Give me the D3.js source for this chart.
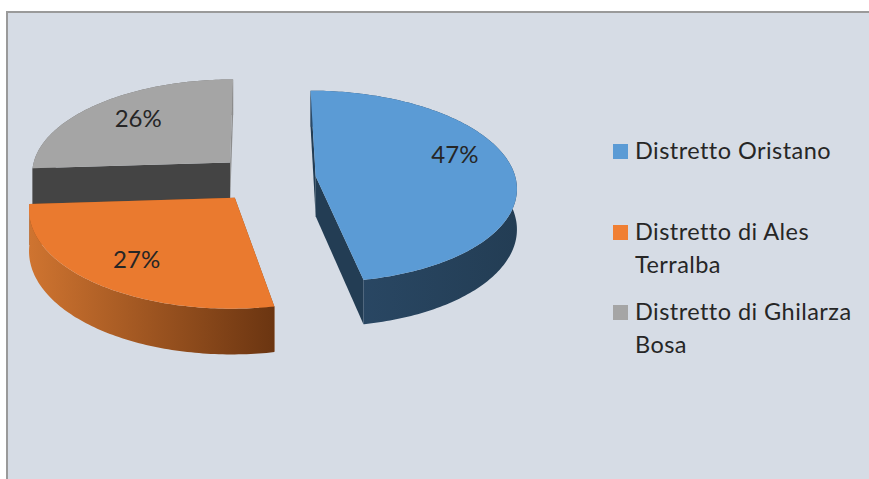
<!DOCTYPE html>
<html>
<head>
<meta charset="utf-8">
<script src="https://cdn.jsdelivr.net/npm/d3@7"></script>
<style>
  html, body { margin: 0; padding: 0; background: #fff; }
  text { font-family: Lato, "Open Sans", sans-serif; fill: #262626; }
</style>
</head>
<body>
<div id="chart"></div>
<script>
const categories = ["Distretto Oristano", "Distretto di Ales Terralba", "Distretto di Ghilarza Bosa"];
const legendLines = [["Distretto Oristano"], ["Distretto di Ales", "Terralba"], ["Distretto di Ghilarza", "Bosa"]];
const values = [47, 27, 26];
const percentLabels = ["47%", "27%", "26%"];

const topColors = ["#5b9bd5", "#ea7a2f", "#a5a5a5"];
const legendColors = ["#5b9bd5", "#f07f33", "#a5a5a5"];
const cutColors = [["#233d54", "#233d54"], ["#8a4a1c", "#8a4a1c"], ["#444444", "#8c8c8c"]];
const wallStops = [["#2b4a68", "#233d54"], ["#cf7430", "#6b3511"], ["#6e6e6e", "#6e6e6e"]];
// the back slice shows its cut faces in front of its rim
const cutInFront = [false, false, true];
// label placement, relative to the middle of each slice
const labelTurn = [-11, -1.5, 0.9];
const labelRadius = [0.75, 0.745, 0.695];

const width = 869, height = 479;
const rad = Math.PI / 180;

// perspective set up of the tilted pie
const radiusX = 200, camera = 905, depth = 40, persp = 0.105;
const vanishX = 262, groundY = 178.5, pieOffset = 4 / radiusX, explode = 0.25;

const svg = d3.select("#chart").append("svg")
    .attr("width", width)
    .attr("height", height)
    .style("display", "block");

svg.append("rect")
    .attr("x", 7).attr("y", 12)
    .attr("width", width).attr("height", height)
    .attr("fill", "#d6dce5")
    .attr("stroke", "#9a9a9a")
    .attr("stroke-width", 2);

const defs = svg.append("defs");
const pie = d3.pie().value(d => d).sort(null);
const slices = pie(values);
const line = d3.line();

function project(wx, wy, z) {
    const s = 1 / (1 + persp * wy);
    return [vanishX + wx * radiusX * s, groundY - camera + (camera + z) * s];
}

slices.forEach((d, i) => { d.mid = (d.startAngle + d.endAngle) / 2; d.i = i; });

function apex(d) {
    return [pieOffset + explode * Math.sin(d.mid), explode * Math.cos(d.mid)];
}

function rimPoint(d, a, r, z) {
    const c = apex(d);
    return project(c[0] + r * Math.sin(a), c[1] + r * Math.cos(a), z);
}

function rim(d, z) {
    return d3.range(d.startAngle, d.endAngle, 1 * rad).concat(d.endAngle).map(a => rimPoint(d, a, 1, z));
}

// back slices first, so the front ones cover them
[2, 1, 0].forEach(i => {
    const d = slices[i];
    const g = svg.append("g").attr("class", "slice");
    const gradId = `wall-${i}`;

    const grad = defs.append("linearGradient").attr("id", gradId);
    grad.append("stop").attr("offset", "0%").attr("stop-color", wallStops[i][0]);
    grad.append("stop").attr("offset", "100%").attr("stop-color", wallStops[i][1]);

    const top = rim(d, 0), bottom = rim(d, depth);

    function drawWall() {
        g.append("path")
            .attr("d", line(top.concat(bottom.slice().reverse())) + "Z")
            .attr("fill", `url(#${gradId})`);
    }

    // flat cut faces from the centre out to the rim
    function drawCuts() {
        [d.startAngle, d.endAngle].forEach((a, k) => {
            g.append("path")
                .attr("d", line([rimPoint(d, a, 0, 0), rimPoint(d, a, 1, 0), rimPoint(d, a, 1, depth), rimPoint(d, a, 0, depth)]) + "Z")
                .attr("fill", cutColors[i][k]);
        });
    }

    if (cutInFront[i]) {
        drawWall();
        drawCuts();
    } else {
        drawCuts();
        drawWall();
    }

    // top face
    g.append("path")
        .attr("d", line([rimPoint(d, 0, 0, 0)].concat(top)) + "Z")
        .attr("fill", topColors[i]);
});

// percent labels
slices.forEach((d, i) => {
    const p = rimPoint(d, d.mid + labelTurn[i] * rad, labelRadius[i], 0);
    svg.append("text")
        .attr("x", p[0]).attr("y", p[1] + 6.5)
        .attr("text-anchor", "middle")
        .style("font-size", "24px")
        .text(percentLabels[i]);
});

// legend
const legendY = d3.scaleOrdinal().domain(categories).range([159, 240, 320]);
const legend = svg.append("g").attr("class", "legend");
categories.forEach((c, i) => {
    legend.append("rect")
        .attr("x", 613).attr("y", legendY(c) - 15)
        .attr("width", 15).attr("height", 15)
        .attr("fill", legendColors[i]);
    legendLines[i].forEach((t, k) => {
        legend.append("text")
            .attr("x", 635).attr("y", legendY(c) + k * 33)
            .style("font-size", "23.5px")
            .style("letter-spacing", "0.45px")
            .text(t);
    });
});
</script>
</body>
</html>
